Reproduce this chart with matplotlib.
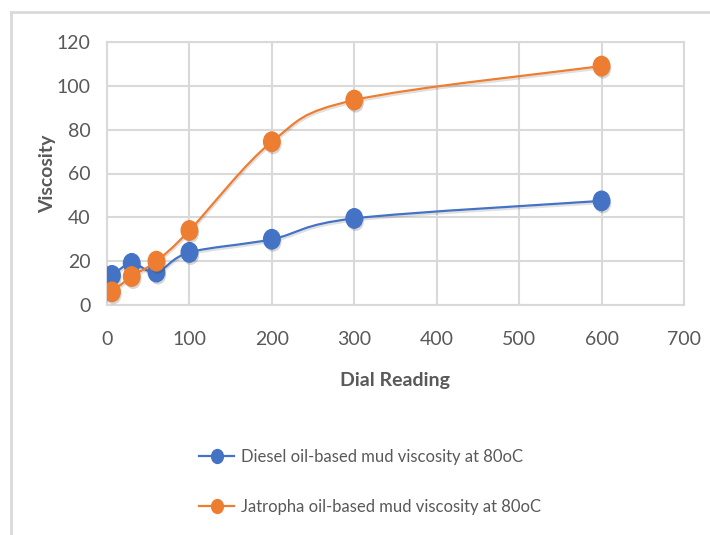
import matplotlib
matplotlib.use('Agg')
import matplotlib.pyplot as plt
import matplotlib.patheffects as pe
from matplotlib.path import Path
from matplotlib.patches import PathPatch
from matplotlib.lines import Line2D
from matplotlib.transforms import Affine2D
import numpy as np

plt.rcParams['font.family'] = ['Lato', 'DejaVu Sans']

dial = [6, 30, 60, 100, 200, 300, 600]
diesel = [13.5, 19, 15, 24, 30, 39.5, 47.5]
jatropha = [6, 13, 20, 34, 74.5, 93.5, 109]

diesel_label = 'Diesel oil-based mud viscosity at 80oC'
jatropha_label = 'Jatropha oil-based mud viscosity at 80oC'

blue = '#4472C4'
orange = '#ED7D31'
grid_c = '#D9D9D9'
text_c = '#595959'

# slightly tall ellipse marker like the stretched Excel picture
ell = Path.unit_circle().transformed(Affine2D().scale(0.85, 1.0))


def smooth_path(x, y):
    # Excel style smooth line: cubic bezier through the points
    x = np.asarray(x, float)
    y = np.asarray(y, float)
    verts = [(x[0], y[0])]
    codes = [Path.MOVETO]
    n = len(x)
    for i in range(n - 1):
        x0, y0 = (x[i - 1], y[i - 1]) if i > 0 else (x[i], y[i])
        x3, y3 = (x[i + 2], y[i + 2]) if i + 2 < n else (x[i + 1], y[i + 1])
        c1 = (x[i] + (x[i + 1] - x0) / 6, y[i] + (y[i + 1] - y0) / 6)
        c2 = (x[i + 1] - (x3 - x[i]) / 6, y[i + 1] - (y3 - y[i]) / 6)
        verts += [c1, c2, (x[i + 1], y[i + 1])]
        codes += [Path.CURVE4] * 3
    return Path(verts, codes)


fig = plt.figure(figsize=(7.1, 5.35), dpi=100)
ax = fig.add_axes([107 / 710, 1 - 305 / 535, 577 / 710, 263 / 535])

shadow = [pe.SimplePatchShadow(offset=(1, -2), alpha=0.2, shadow_rgbFace='#333333'), pe.Normal()]
line_shadow = [pe.SimpleLineShadow(offset=(0.5, -1.5), alpha=0.12), pe.Normal()]

for vals, col in [(diesel, blue), (jatropha, orange)]:
    patch = PathPatch(smooth_path(dial, vals), facecolor='none', edgecolor=col,
                      linewidth=1.6, zorder=3)
    patch.set_path_effects(line_shadow)
    ax.add_patch(patch)
    ax.plot(dial, vals, linestyle='none', marker=ell, markersize=14,
            color=col, markeredgecolor=col, zorder=4, path_effects=shadow)

ax.set_xlim(0, 700)
ax.set_ylim(0, 120)
ax.set_xticks(range(0, 701, 100))
ax.set_yticks(range(0, 121, 20))
ax.grid(True, color=grid_c, linewidth=1.5)
ax.set_axisbelow(True)
for s in ax.spines.values():
    s.set_color(grid_c)
    s.set_linewidth(1.5)
ax.tick_params(length=0, labelsize=14, colors=text_c)
ax.tick_params(axis='y', pad=12)
ax.tick_params(axis='x', pad=19)

ax.set_xlabel('Dial Reading', fontsize=14, fontweight='bold', color=text_c, labelpad=17)
ax.set_ylabel('Viscosity', fontsize=14, fontweight='bold', color=text_c, labelpad=0)

handles = [
    Line2D([], [], color=blue, linewidth=1.6, marker=ell, markersize=10, markeredgecolor=blue),
    Line2D([], [], color=orange, linewidth=1.6, marker=ell, markersize=10, markeredgecolor=orange),
]
leg = fig.legend(handles, [diesel_label, jatropha_label], loc='upper left',
                 bbox_to_anchor=(184 / 710, 1 - 434 / 535), frameon=False,
                 fontsize=12, labelspacing=2.05, handlelength=2.1, handletextpad=0.4,
                 labelcolor=text_c)

# outer chart frame
fig.add_artist(Line2D([11 / 710, 11 / 710], [0, 1 - 12 / 535], transform=fig.transFigure,
                      color=grid_c, linewidth=2))
fig.add_artist(Line2D([11 / 710, 1], [1 - 12 / 535, 1 - 12 / 535], transform=fig.transFigure,
                      color=grid_c, linewidth=2))

fig.savefig('out.png', dpi=100)
